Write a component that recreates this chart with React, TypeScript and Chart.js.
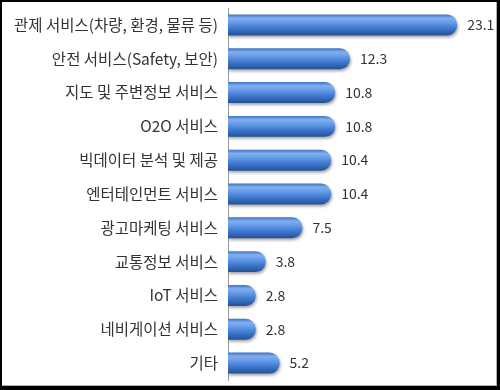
import React, { useEffect, useRef } from "react";
import { Chart, registerables } from "chart.js";

Chart.register(...registerables);

const categories = [
  "관제 서비스(차량, 환경, 물류 등)",
  "안전 서비스(Safety, 보안)",
  "지도 및 주변정보 서비스",
  "O2O 서비스",
  "빅데이터 분석 및 제공",
  "엔터테인먼트 서비스",
  "광고마케팅 서비스",
  "교통정보 서비스",
  "IoT 서비스",
  "네비게이션 서비스",
  "기타",
];
const values = [23.1, 12.3, 10.8, 10.8, 10.4, 10.4, 7.5, 3.8, 2.8, 2.8, 5.2];
const valueLabels = ["23.1", "12.3", "10.8", "10.8", "10.4", "10.4", "7.5", "3.8", "2.8", "2.8", "5.2"];

const FONT = "'Noto Sans CJK KR', 'Noto Sans', sans-serif";

export default function App() {
  const ref = useRef<HTMLCanvasElement | null>(null);

  useEffect(() => {
    document.body.style.margin = "0";
    const canvas = ref.current!;
    const shadowPlugin = {
      id: "barShadow",
      beforeDatasetsDraw(chart: any) {
        const ctx = chart.ctx;
        ctx.save();
        ctx.shadowColor = "rgba(0,0,0,0.35)";
        ctx.shadowOffsetX = 1;
        ctx.shadowOffsetY = 2;
        ctx.shadowBlur = 3;
      },
      afterDatasetsDraw(chart: any) {
        const ctx = chart.ctx;
        ctx.restore();
        const meta = chart.getDatasetMeta(0);
        ctx.save();
        ctx.font = "14px " + FONT;
        ctx.fillStyle = "#333333";
        ctx.textAlign = "left";
        ctx.textBaseline = "middle";
        meta.data.forEach((el: any, i: number) => {
          ctx.fillText(valueLabels[i], el.x + 10, el.y);
        });
        ctx.restore();
      },
    };

    const chart = new Chart(canvas, {
      type: "bar",
      data: {
        labels: categories,
        datasets: [
          {
            data: values,
            backgroundColor: (c: any) => {
              const chartObj = c.chart;
              const y = chartObj.scales?.y;
              if (!y || c.dataIndex === undefined) return "#4a80d4";
              const cy = y.getPixelForValue(c.dataIndex);
              if (!isFinite(cy)) return "#4a80d4";
              const h = 21;
              const g = chartObj.ctx.createLinearGradient(0, cy - h / 2, 0, cy + h / 2);
              g.addColorStop(0, "#3f72c4");
              g.addColorStop(0.18, "#80aef0");
              g.addColorStop(0.35, "#6c9fe8");
              g.addColorStop(0.6, "#4580d6");
              g.addColorStop(0.85, "#2f62b2");
              g.addColorStop(1, "#23508f");
              return g;
            },
            borderRadius: 10,
            borderSkipped: "start",
            barPercentage: 0.62,
            categoryPercentage: 1,
          },
        ],
      },
      options: {
        indexAxis: "y",
        animation: false,
        responsive: false,
        maintainAspectRatio: false,
        events: [],
        layout: { padding: { left: 6, right: 24, top: 8, bottom: 10 } },
        plugins: {
          legend: { display: false },
          tooltip: { enabled: false },
        },
        scales: {
          x: {
            display: false,
            min: 0,
            max: 25,
          },
          y: {
            grid: { display: false, drawTicks: false },
            border: { display: true, color: "#9a9a9a", width: 1 },
            ticks: {
              color: "#333333",
              font: { family: FONT, size: 15.5 },
              padding: 10,
            },
            afterFit: (scale: any) => {
              scale.width = 222;
              scale.paddingTop = 0;
              scale.paddingBottom = 0;
            },
          },
        },
      },
      plugins: [shadowPlugin],
    } as any);
    return () => chart.destroy();
  }, []);

  return (
    <div style={{ position: "relative", width: 500, height: 390, background: "#fff" }}>
      <canvas ref={ref} width={500} height={390} style={{ position: "absolute", left: 0, top: 0 }} />
      <div
        style={{
          position: "absolute",
          left: 0,
          top: 0,
          width: 500,
          height: 390,
          boxSizing: "border-box",
          borderLeft: "2px solid #000",
          borderTop: "2px solid #000",
          borderRight: "3px solid #000",
          borderBottom: "4px solid #000",
          pointerEvents: "none",
        }}
      >
        <div
          style={{
            position: "absolute",
            inset: 0,
            borderRight: "1px solid #b0b0b0",
            borderBottom: "1px solid #b0b0b0",
          }}
        />
      </div>
    </div>
  );
}
